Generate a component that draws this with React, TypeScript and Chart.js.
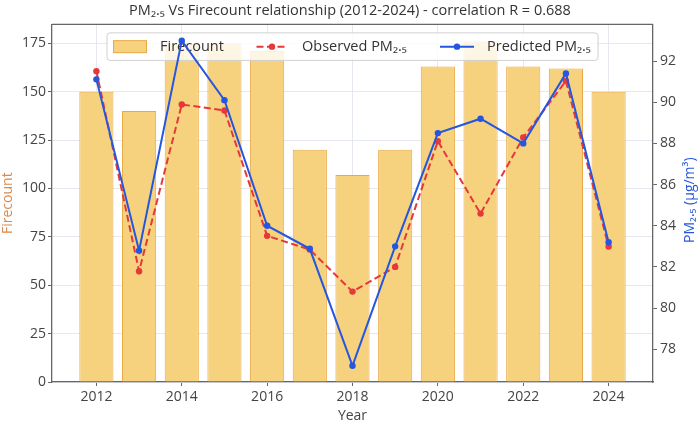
import { useEffect, useRef } from "react";
import { Chart, registerables } from "chart.js";

Chart.register(...registerables);

const years = [2012, 2013, 2014, 2015, 2016, 2017, 2018, 2019, 2020, 2021, 2022, 2023, 2024];
const firecount = [150, 140, 175, 175, 171, 120, 107, 120, 163, 176, 163, 162, 150];
const observedPm = [91.51, 81.79, 89.89, 89.6, 83.51, 82.84, 80.8, 82.0, 88.11, 84.59, 88.29, 91.03, 82.99];
const predictedPm = [91.11, 82.79, 92.99, 90.1, 84.0, 82.88, 77.2, 83.0, 88.5, 89.2, 88.0, 91.4, 83.2];

const yearTicks = [2012, 2014, 2016, 2018, 2020, 2022, 2024];
const firecountTicks = [0, 25, 50, 75, 100, 125, 150, 175];
const pmTicks = [78, 80, 82, 84, 86, 88, 90, 92];

const FONT = "'Open Sans', 'DejaVu Sans', sans-serif";
const BAR_FILL = "#f7d27e";
const BAR_EDGE = "#e9aa45";
const RED = "#e6383a";
const BLUE = "#2556e0";
const AXIS = "#666666";
const GRID = "#e6e8ef";
const TEXT = "#444444";

// legend sits inside the plot, above the bars but under the lines
const legendPlugin = {
  id: "innerLegend",
  afterDatasetDraw(chart: any, args: any) {
    if (args.index !== 0) return;
    const ctx = chart.ctx;
    const { left } = chart.chartArea;
    const x0 = left + 55;
    const y0 = chart.chartArea.top + 8.5;
    const w = 491;
    const h = 27.5;
    ctx.save();
    ctx.beginPath();
    ctx.roundRect(x0, y0, w, h, 3);
    ctx.fillStyle = "rgba(255,255,255,0.8)";
    ctx.fill();
    ctx.strokeStyle = "#d0d0d0";
    ctx.lineWidth = 1;
    ctx.stroke();

    const cy = y0 + h / 2;
    ctx.font = `14.5px ${FONT}`;
    ctx.textBaseline = "middle";
    const ds = chart.data.datasets;

    // bar patch
    ctx.fillStyle = BAR_FILL;
    ctx.fillRect(x0 + 6.5, cy - 6, 33, 12);
    ctx.strokeStyle = BAR_EDGE;
    ctx.strokeRect(x0 + 6.5, cy - 6, 33, 12);
    ctx.fillStyle = "#333";
    ctx.fillText(ds[0].label, x0 + 53, cy + 0.5);

    // observed
    ctx.strokeStyle = RED;
    ctx.lineWidth = 2;
    ctx.setLineDash([7, 3.5]);
    ctx.beginPath();
    ctx.moveTo(x0 + 149.5, cy);
    ctx.lineTo(x0 + 178, cy);
    ctx.stroke();
    ctx.setLineDash([]);
    ctx.fillStyle = RED;
    ctx.beginPath();
    ctx.arc(x0 + 165, cy, 3.2, 0, Math.PI * 2);
    ctx.fill();
    ctx.fillStyle = "#333";
    ctx.fillText(ds[1].label, x0 + 195, cy + 0.5);

    // predicted
    ctx.strokeStyle = BLUE;
    ctx.beginPath();
    ctx.moveTo(x0 + 333, cy);
    ctx.lineTo(x0 + 367, cy);
    ctx.stroke();
    ctx.fillStyle = BLUE;
    ctx.beginPath();
    ctx.arc(x0 + 350, cy, 3.2, 0, Math.PI * 2);
    ctx.fill();
    ctx.fillStyle = "#333";
    ctx.fillText(ds[2].label, x0 + 380, cy + 0.5);
    ctx.restore();
  },
};

// top spine + right axis title reading bottom-to-top
const framePlugin = {
  id: "frame",
  afterDraw(chart: any) {
    const ctx = chart.ctx;
    const { left, right, top, bottom } = chart.chartArea;
    ctx.save();
    ctx.strokeStyle = AXIS;
    ctx.lineWidth = 1.3;
    ctx.beginPath();
    ctx.moveTo(left, top);
    ctx.lineTo(right, top);
    ctx.stroke();

    ctx.translate(chart.width - 9.5, (top + bottom) / 2 - 3);
    ctx.rotate(-Math.PI / 2);
    ctx.font = `14px ${FONT}`;
    ctx.fillStyle = BLUE;
    ctx.textAlign = "center";
    ctx.textBaseline = "middle";
    ctx.fillText("PM₂.₅ (μg/m³)", 0, 0);
    ctx.restore();
  },
};

const PmFirecountChart = () => {
  const canvasRef = useRef<HTMLCanvasElement>(null);
  const chartRef = useRef<Chart | null>(null);

  useEffect(() => {
    document.body.style.margin = "0";
    if (!canvasRef.current) return;
    if (chartRef.current) chartRef.current.destroy();

    chartRef.current = new Chart(canvasRef.current, {
      type: "bar",
      data: {
        datasets: [
          {
            type: "bar",
            label: "Firecount",
            data: years.map((x, i) => ({ x, y: firecount[i] })),
            backgroundColor: BAR_FILL,
            borderColor: BAR_EDGE,
            borderWidth: 1,
            barPercentage: 0.8,
            categoryPercentage: 1.0,
            yAxisID: "y",
            order: 3,
          },
          {
            type: "line",
            label: "Observed PM₂.₅",
            data: years.map((x, i) => ({ x, y: observedPm[i] })),
            borderColor: RED,
            backgroundColor: RED,
            borderWidth: 2,
            borderDash: [7, 3.5],
            pointRadius: 3.2,
            pointBorderWidth: 0,
            pointBackgroundColor: RED,
            yAxisID: "y1",
            order: 2,
          },
          {
            type: "line",
            label: "Predicted PM₂.₅",
            data: years.map((x, i) => ({ x, y: predictedPm[i] })),
            borderColor: BLUE,
            backgroundColor: BLUE,
            borderWidth: 2,
            pointRadius: 3.2,
            pointBorderWidth: 0,
            pointBackgroundColor: BLUE,
            yAxisID: "y1",
            order: 1,
          },
        ] as any,
      },
      options: {
        animation: false,
        responsive: false,
        maintainAspectRatio: false,
        layout: { padding: 0 },
        plugins: {
          legend: { display: false },
          tooltip: { enabled: false },
          title: {
            display: true,
            text: "PM₂.₅ Vs Firecount relationship (2012-2024) - correlation R = 0.688",
            color: "#333",
            font: { family: FONT, size: 14.5, weight: "normal", lineHeight: 1.2 },
            padding: { top: 2, bottom: 5 },
          },
        },
        scales: {
          x: {
            type: "linear",
            position: "bottom",
            offset: false,
            min: 2010.96,
            max: 2025.04,
            afterBuildTicks: (axis: any) => {
              axis.ticks = yearTicks.map((value) => ({ value }));
            },
            afterFit: (axis: any) => {
              axis.height = 41;
            },
            ticks: {
              callback: (v: any) => String(v),
              color: TEXT,
              font: { family: FONT, size: 14 },
              padding: 3,
              maxRotation: 0,
            },
            grid: { offset: false, color: GRID, tickColor: AXIS, tickLength: 4 },
            border: { color: AXIS, width: 1.3 },
            title: {
              display: true,
              text: "Year",
              color: TEXT,
              font: { family: FONT, size: 14, lineHeight: 1 },
              padding: { top: 0, bottom: 0 },
            },
          },
          y: {
            type: "linear",
            position: "left",
            min: 0,
            max: 184.8,
            afterBuildTicks: (axis: any) => {
              axis.ticks = firecountTicks.map((value) => ({ value }));
            },
            afterFit: (axis: any) => {
              axis.width = 52;
            },
            ticks: {
              color: TEXT,
              font: { family: FONT, size: 14 },
              padding: 2,
            },
            grid: { color: GRID, tickColor: AXIS, tickLength: 4 },
            border: { color: AXIS, width: 1.3 },
            title: {
              display: true,
              text: "Firecount",
              color: "#d98a4e",
              font: { family: FONT, size: 14, lineHeight: 1 },
              padding: { top: 1, bottom: 0 },
            },
          },
          y1: {
            type: "linear",
            position: "right",
            min: 76.41,
            max: 93.78,
            afterBuildTicks: (axis: any) => {
              axis.ticks = pmTicks.map((value) => ({ value }));
            },
            afterFit: (axis: any) => {
              axis.width = 47;
            },
            ticks: {
              color: TEXT,
              font: { family: FONT, size: 14 },
              padding: 3,
            },
            grid: { drawOnChartArea: false, tickColor: AXIS, tickLength: 4 },
            border: { color: AXIS, width: 1.3 },
          },
        },
      } as any,
      plugins: [legendPlugin, framePlugin],
    });

    return () => {
      if (chartRef.current) {
        chartRef.current.destroy();
        chartRef.current = null;
      }
    };
  }, []);

  return (
    <div style={{ width: 700, height: 423 }}>
      <canvas ref={canvasRef} width={700} height={423}></canvas>
    </div>
  );
};

export default function App() {
  return <PmFirecountChart />;
}
